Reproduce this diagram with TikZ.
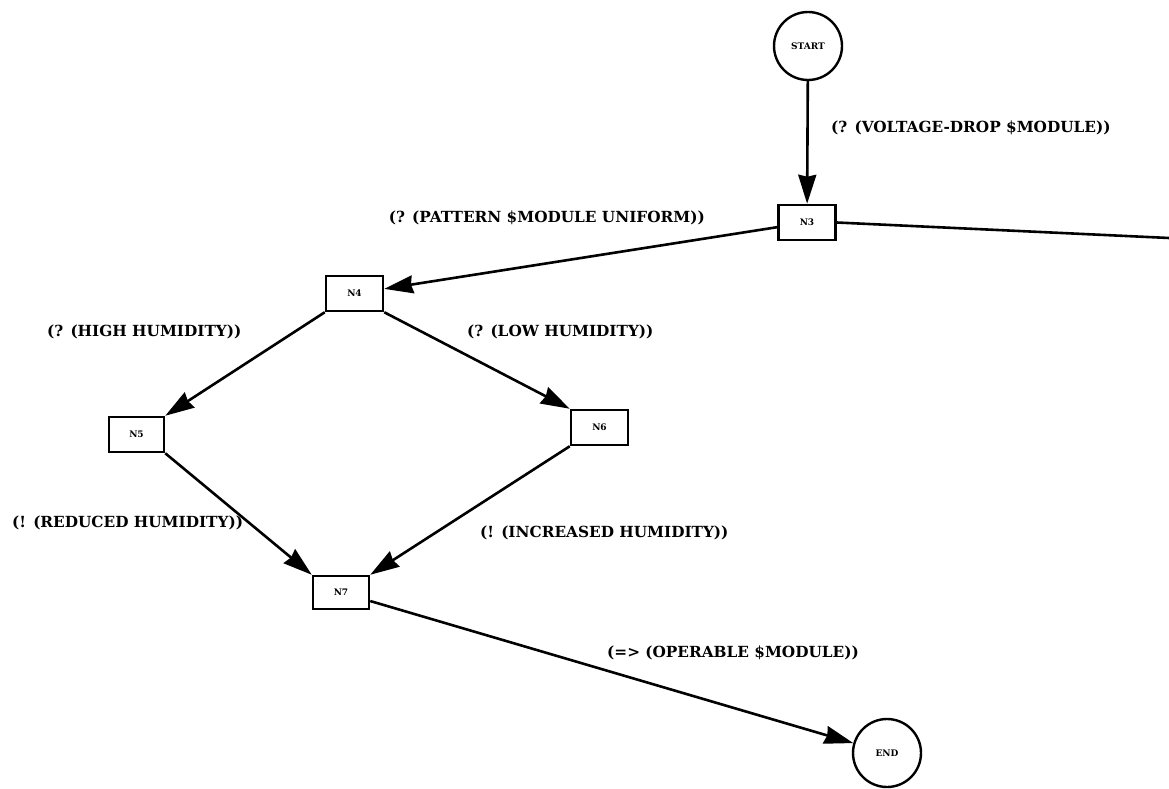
\documentclass[tikz,border=0pt]{standalone}
\usepackage{fontspec}
\setmainfont{DejaVu Serif}
\usetikzlibrary{arrows.meta}

\tikzset{
  state/.style={draw, circle, line width=2.4pt, minimum size=68pt, inner sep=0pt,
    font=\fontsize{9}{10}\selectfont\bfseries},
  stepbox/.style={draw, rectangle, line width=2.5pt, minimum width=57pt,
    minimum height=35pt, inner sep=0pt, font=\fontsize{9}{10}\selectfont\bfseries},
  flow/.style={line width=2.6pt, -{Stealth[length=29pt,width=18pt,inset=2pt]}},
  plain/.style={line width=2.6pt},
  cond/.style={inner sep=0pt, anchor=west, font=\fontsize{15.3}{18}\selectfont\bfseries}
}

\begin{document}
\begin{tikzpicture}[x=1pt,y=-1pt]
  \useasboundingbox (0,0) rectangle (1169,789);

  % states and steps of the plan
  \node[state]   (start) at (808,46)    {START};
  \node[stepbox] (n3)    at (807,222.5) {N3};
  \node[stepbox] (n4)    at (354.5,293.5) {N4};
  \node[stepbox, minimum width=55pt] (n5) at (136.5,434.5) {N5};
  \node[stepbox] (n6)    at (599.5,427.5) {N6};
  \node[stepbox, minimum width=56pt, minimum height=33pt] (n7) at (341,592.5) {N7};
  \node[state]   (end)   at (887,753)   {END};
  \coordinate (exit) at (1169,238);

  % transitions
  \draw[flow]  (start) -- (n3);
  \draw[plain] (n3.east) -- (exit);
  \draw[flow]  (n3) -- (n4);
  \draw[flow]  (n4.south west) -- (n5.north east);
  \draw[flow]  (n4.south east) -- (n6.north west);
  \draw[flow]  (n5.south east) -- (n7.north west);
  \draw[flow]  (n6.south west) -- (n7.north east);
  \draw[flow]  (n7) -- (end);

  % transition conditions
  \node[cond] (lvolt) at (831,128) {(? (VOLTAGE-DROP \$MODULE))};
  \node[cond, anchor=east] (lpat) at (705,218) {(? (PATTERN \$MODULE UNIFORM))};
  \node[cond] (lhigh) at (47,332) {(? (HIGH HUMIDITY))};
  \node[cond] (llow)  at (467,332) {(? (LOW HUMIDITY))};
  \node[cond] (lred)  at (12,523) {(! (REDUCED HUMIDITY))};
  \node[cond] (linc)  at (480,533) {(! (INCREASED HUMIDITY))};
  \node[cond] (lop)   at (607,653) {(=> (OPERABLE \$MODULE))};
\end{tikzpicture}
\end{document}
